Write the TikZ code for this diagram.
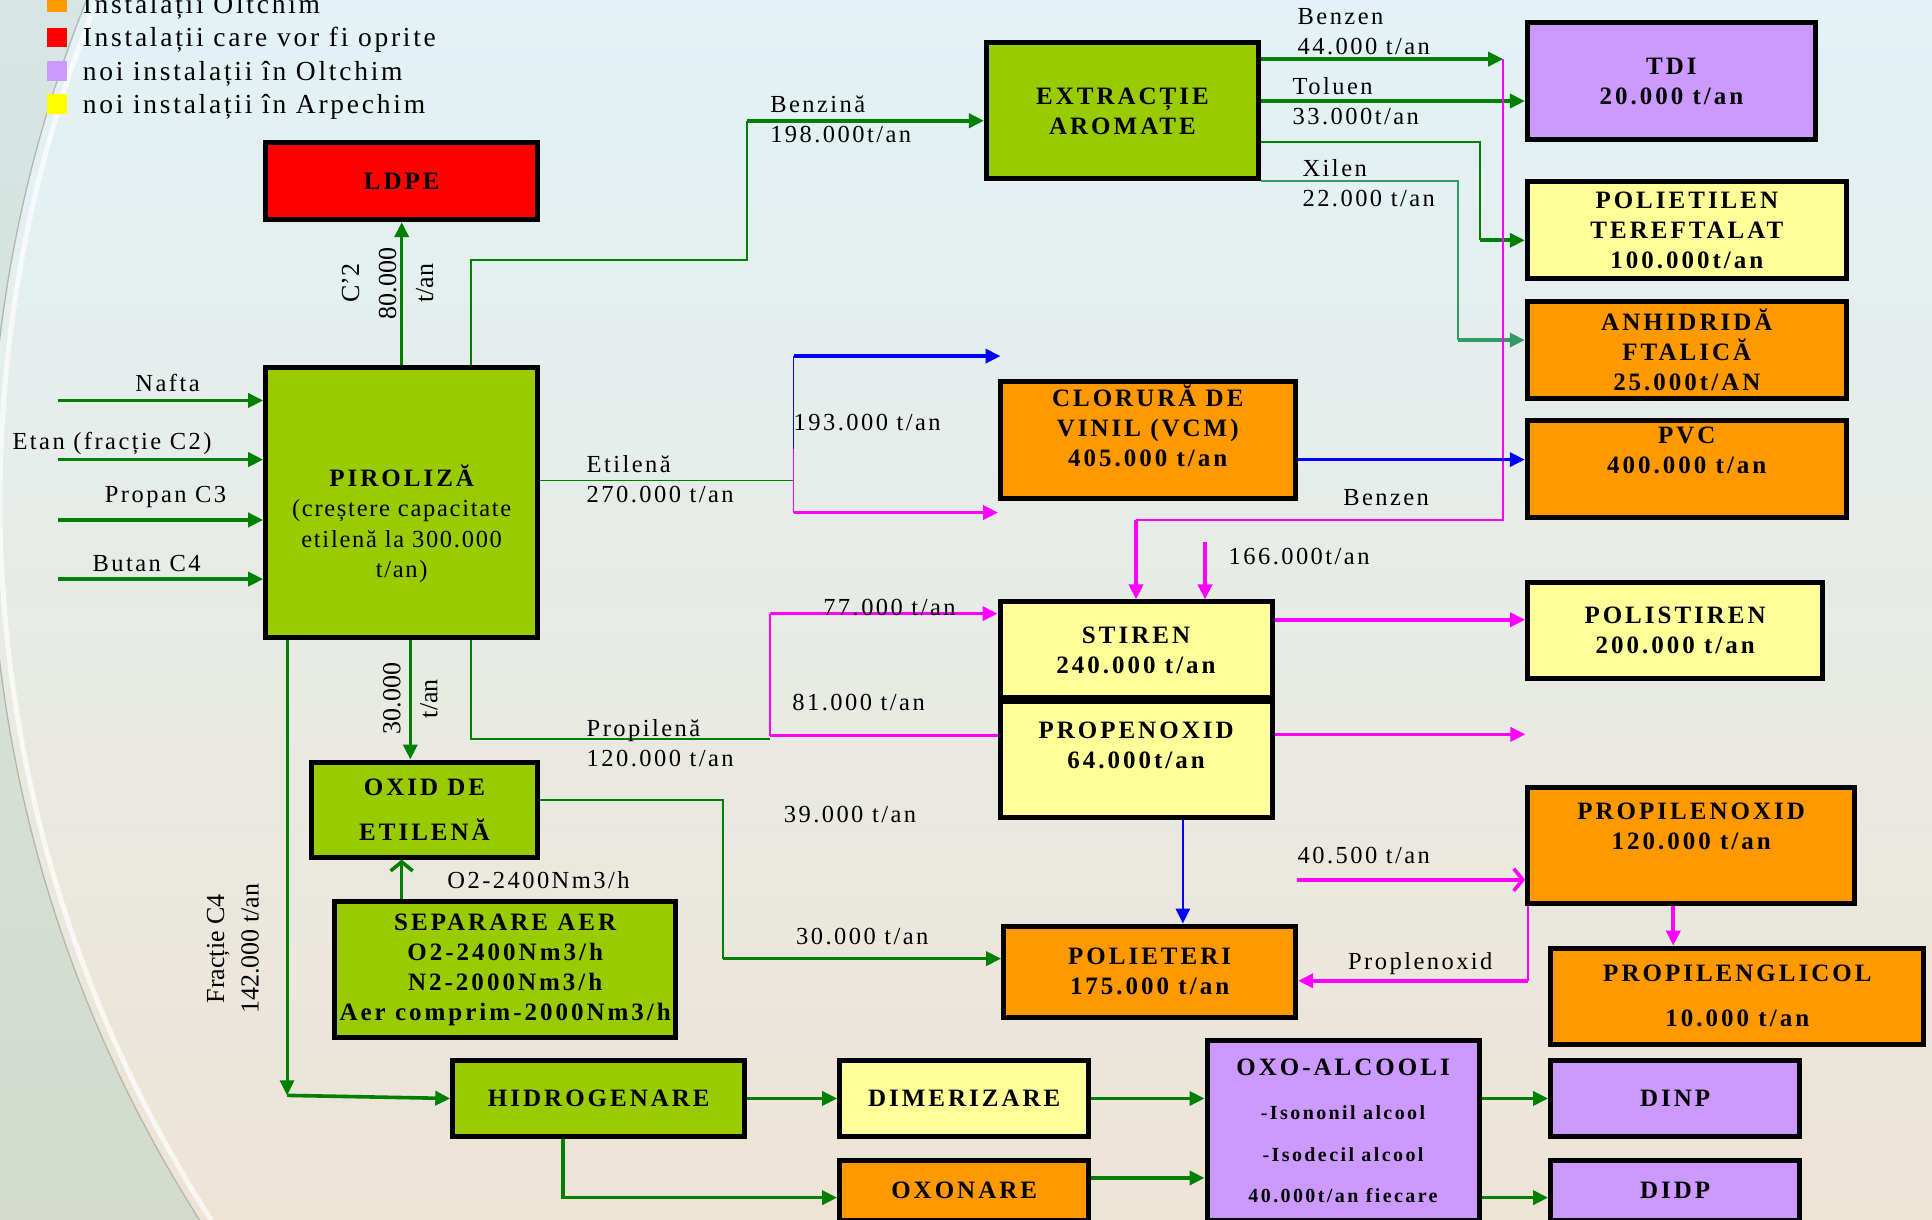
\documentclass[tikz,border=0pt]{standalone}
\usepackage{fontspec}
\setmainfont{Liberation Serif}
\newfontfamily\boxfam[LetterSpace=12]{Liberation Serif}
\newfontfamily\lblfam[LetterSpace=10]{Liberation Serif}
\newfontfamily\legfam[LetterSpace=10]{Liberation Serif}
\newfontfamily\pirfam[LetterSpace=7]{Liberation Serif}
\newfontfamily\rotfam{Liberation Serif}
\usetikzlibrary{arrows.meta}
\definecolor{gfill}{HTML}{99CC00}
\definecolor{ofill}{HTML}{FF9900}
\definecolor{vfill}{HTML}{CC99FF}
\definecolor{yfill}{HTML}{FFFF99}
\definecolor{rfill}{HTML}{FF0000}
\definecolor{ysq}{HTML}{FFFF00}
\definecolor{gline}{HTML}{008000}
\definecolor{tline}{HTML}{339966}
\definecolor{pline}{HTML}{FF00FF}
\definecolor{bline}{HTML}{0000FF}
\definecolor{bgtop}{HTML}{E2F2F6}
\definecolor{bgmid}{HTML}{F6F7F3}
\definecolor{bgbot}{HTML}{EDE4D6}
\definecolor{lefttop}{HTML}{D8EEF3}
\definecolor{leftbot}{HTML}{D3D5C3}
\definecolor{arcline}{HTML}{B5B5AC}
\newcommand\boxtxt{\fontsize{25}{30}\selectfont\boxfam\bfseries}
\newcommand\subtxt{\fontsize{20}{24}\selectfont\boxfam\bfseries}
\newcommand\lbltxt{\fontsize{24.5}{30}\selectfont\lblfam}
\newcommand\legtxt{\fontsize{27.5}{33}\selectfont\legfam}
\newcommand\pirtxt{\fontsize{24.5}{30.5}\selectfont\pirfam}
\newcommand\rottxt{\fontsize{26}{37}\selectfont\rotfam}
\newcommand\rottxtb{\fontsize{26}{34.5}\selectfont\rotfam}
\tikzset{
  box/.style={draw=black, line width=5pt, inner sep=2pt, align=center, font=\boxtxt, text=black},
  bx/.style 2 args={minimum width=#1pt, minimum height=#2pt},
  lbl/.style={font=\lbltxt, inner sep=0pt, align=left, text=black},
  leg/.style={font=\legtxt, inner sep=0pt, anchor=base west, text=black},
  legsq/.style={minimum size=19.7pt, inner sep=0pt, draw=none},
  rot/.style={inner sep=0pt, align=center, rotate=90, text=black},
  arrowtip/.style={-{Triangle[length=15pt,width=14pt]}},
  openbarb/.style={-{Straight Barb[length=9pt,width=22pt]}},
  gA/.style={draw=gline, line width=3.6pt, arrowtip},
  gT/.style={draw=gline, line width=1.8pt},
  tA/.style={draw=tline, line width=3.6pt, arrowtip},
  tT/.style={draw=tline, line width=1.8pt},
  pA/.style={draw=pline, line width=3.6pt, arrowtip},
  pT/.style={draw=pline, line width=1.8pt},
  bA/.style={draw=bline, line width=3.6pt, arrowtip},
  bT/.style={draw=bline, line width=1.8pt},
}
\begin{document}
\begin{tikzpicture}[x=1.232pt,y=-1.232pt]
\path[use as bounding box, clip] (0,0) rectangle (1568,990);
% ---------- background ----------
\shade[top color=bgtop, middle color=bgmid, bottom color=bgbot] (0,0) rectangle (1568,990);
\shade[even odd rule, top color=lefttop, bottom color=leftbot] (-10,-10) rectangle (1568,1000) (1080,406) circle[radius=1088];
\draw[white, line width=5pt, opacity=0.7] (1080,406) circle[radius=1080];
\draw[arcline, line width=1.3pt] (1080,406) circle[radius=1088];

% ---------- legend ----------
\node[legsq, fill=ofill] (lg1) at (46,2) {};
\node[legsq, fill=rfill] (lg2) at (46,30.5) {};
\node[legsq, fill=vfill] (lg3) at (46,57.5) {};
\node[legsq, fill=ysq] (lg4) at (46,84.5) {};
\node[leg] (lt1) at (67,11) {Instalații Oltchim};
\node[leg] (lt2) at (67,38) {Instalații care vor fi oprite};
\node[leg] (lt3) at (67,65) {noi instalații în Oltchim};
\node[leg] (lt4) at (67,92) {noi instalații în Arpechim};

% ---------- boxes ----------
\node[box, bx={272}{77}, fill=rfill] (ldpe) at (326,147) {LDPE};
\node[box, bx={272}{136}, fill=gfill] (extr) at (911,90) {EXTRACȚIE\\AROMATE};
\node[box, bx={288}{117}, fill=vfill] (tdi) at (1356.5,66) {TDI\\20.000 t/an};
\node[box, bx={319}{97}, fill=yfill] (pet) at (1369,187) {POLIETILEN\\TEREFTALAT\\100.000t/an};
\node[box, bx={319}{97}, fill=ofill] (anh) at (1369,284) {ANHIDRIDĂ\\FTALICĂ\\25.000t/AN};
\node[box, bx={319}{97}, fill=ofill] (pvc) at (1369,381) {PVC\\400.000 t/an\\[8pt]\mbox{}};
\node[box, bx={295}{117}, fill=ofill] (vcm) at (931.5,357) {CLORURĂ DE\\VINIL (VCM)\\405.000 t/an\\[-2pt]\mbox{}};
\node[box, bx={272}{270}, fill=gfill, font=\pirtxt] (piro) at (326,408)
  {\mbox{}\\[33pt]{\boxtxt PIROLIZĂ}\\(creștere capacitate\\etilenă la 300.000\\t/an)};
\node[box, bx={272}{96}, fill=yfill] (stir) at (922,527.5) {STIREN\\240.000 t/an};
\node[box, bx={272}{116}, fill=yfill] (prop) at (922,616.5) {PROPENOXID\\64.000t/an\\[-2pt]\mbox{}};
\node[box, bx={295}{96}, fill=yfill] (polist) at (1359.5,511.5) {POLISTIREN\\200.000 t/an};
\node[box, bx={327}{116}, fill=ofill] (pox) at (1372.5,686.5) {PROPILENOXID\\120.000 t/an\\[10pt]\mbox{}};
\node[box, bx={373}{96}, fill=ofill] (pgl) at (1410,808.5) {PROPILENGLICOL\\[15pt]10.000 t/an};
\node[box, bx={226}{95}, fill=gfill] (oxe) at (344.5,657) {OXID DE\\[15pt]ETILENĂ};
\node[box, bx={341}{136}, fill=gfill] (sep) at (410,787) {SEPARARE AER\\O2-2400Nm3/h\\N2-2000Nm3/h\\Aer comprim-2000Nm3/h};
\node[box, bx={292}{91}, fill=ofill] (polie) at (933,788.5) {POLIETERI\\175.000 t/an};
\node[box, bx={292}{76}, fill=gfill] (hidr) at (486,891.5) {HIDROGENARE};
\node[box, bx={249}{76}, fill=yfill] (dim) at (782.5,891.5) {DIMERIZARE};
\node[box, bx={249}{60}, fill=ofill] (oxon) at (782.5,966) {OXONARE};
\node[box, bx={272}{180}, fill=vfill] (oxo) at (1090,917.5)
  {OXO-ALCOOLI\\[14pt]{\subtxt -Isononil alcool}\\[12pt]{\subtxt -Isodecil alcool}\\[11pt]{\subtxt 40.000t/an fiecare}};
\node[box, bx={249}{76}, fill=vfill] (dinp) at (1359.5,891.5) {DINP};
\node[box, bx={249}{60}, fill=vfill] (didp) at (1359.5,966) {DIDP};

% ---------- free coordinates ----------
\coordinate (in1) at (47,325);
\coordinate (in2) at (47,373);
\coordinate (in3) at (47,422);
\coordinate (in4) at (47,470);
\coordinate (bz0) at (606,211);
\coordinate (bzk) at (606,98);
\coordinate (benzend) at (1220,48);
\coordinate (petc) at (1201,115);
\coordinate (petk) at (1201,195);
\coordinate (xic) at (1183,147);
\coordinate (xik) at (1183,276);
\coordinate (pbz) at (1220,422);
\coordinate (pbz2) at (922,422);
\coordinate (s166) at (978,440);
\coordinate (etj) at (644,390);
\coordinate (etsplit) at (644,364);
\coordinate (etb) at (644,289);
\coordinate (etbend) at (812,289);
\coordinate (etp) at (644,416);
\coordinate (etpend) at (810,416);
\coordinate (prj) at (382,600);
\coordinate (prk) at (625,600);
\coordinate (prp) at (625,597);
\coordinate (prt) at (625,498);
\coordinate (poend) at (1238,596);
\coordinate (c4k) at (233,889);
\coordinate (oxc) at (587,649);
\coordinate (oxk) at (587,778);
\coordinate (s405) at (1053,714);
\coordinate (plk) at (1240,796);

% ---------- connectors ----------
\draw[gA] (in1) -- (piro.west |- in1);
\draw[gA] (in2) -- (piro.west |- in2);
\draw[gA] (in3) -- (piro.west |- in3);
\draw[gA] (in4) -- (piro.west |- in4);
\draw[gA] (piro.north) -- (ldpe.south);
\draw[gT] (piro.north -| 382,0) |- (bz0) -- (bzk);
\draw[gA] (bzk) -- (extr.west |- bzk);
\draw[gA] (extr.east |- benzend) -- (benzend);
\draw[gA] (extr.east |- 0,82) -- (tdi.west |- 0,82);
\draw[gT] (extr.east |- petc) -- (petc) -- (petk);
\draw[gA] (petk) -- (pet.west |- petk);
\draw[tT] (extr.east |- xic) -- (xic) -- (xik);
\draw[tA] (xik) -- (anh.west |- xik);
\draw[pT] (benzend) -- (pbz) -- (pbz2);
\draw[pA] (pbz2) -- (stir.north -| pbz2);
\draw[pA] (s166) -- (stir.north -| s166);
\draw[gT] (piro.east |- etj) -- (etj);
\draw[bT] (etsplit) -- (etb);
\draw[bA] (etb) -- (etbend);
\draw[pT] (etsplit) -- (etp);
\draw[pA] (etp) -- (etpend);
\draw[bA] (vcm.east |- 0,373) -- (pvc.west |- 0,373);
\draw[pA] (stir.east |- 0,503) -- (polist.west |- 0,503);
\draw[pA] (prop.east |- poend) -- (poend);
\draw[gT] (piro.south -| prj) -- (prj) -- (prk);
\draw[pT] (prp) -- (prt);
\draw[draw=pline, line width=3.6pt] (prp) -- (prop.west |- prp);
\draw[pA] (prt) -- (stir.west |- prt);
\draw[gA] (piro.south -| 333,0) -- (oxe.north -| 333,0);
\draw[draw=gline, line width=3pt, arrowtip] (piro.south -| c4k) -- (c4k);
\draw[gA] (c4k) -- (hidr.west);
\draw[gT] (oxe.east |- oxc) -- (oxc) -- (oxk);
\draw[gA] (oxk) -- (polie.west |- oxk);
\draw[draw=gline, line width=3.6pt, openbarb] (sep.north -| 326,0) -- (oxe.south -| 326,0);
\draw[draw=bline, line width=2.6pt, arrowtip] (prop.south -| 960,0) -- (polie.north -| 960,0);
\draw[draw=pline, line width=3.6pt, openbarb] (s405) -- (pox.west |- s405);
\draw[draw=pline, line width=2.2pt] (pox.south -| plk) -- (plk);
\draw[pA] (plk) -- (polie.east |- plk);
\draw[pA] (pox.south -| 1358,0) -- (pgl.north -| 1358,0);
\draw[gA] (hidr.east) -- (dim.west);
\draw[gA] (hidr.south -| 457,0) |- (oxon.west |- 0,972);
\draw[gA] (dim.east) -- (oxo.west |- dim.east);
\draw[gA] (oxon.east |- 0,956) -- (oxo.west |- 0,956);
\draw[gA] (oxo.east |- dinp.west) -- (dinp.west);
\draw[gA] (oxo.east |- 0,972) -- (didp.west |- 0,972);

% ---------- labels ----------
\node[lbl] (l-nafta) at (136,311) {Nafta};
\node[lbl, anchor=west] (l-etan) at (10,360) {Etan (fracție C2)};
\node[lbl, anchor=west] (l-propan) at (85,403) {Propan C3};
\node[lbl, anchor=west] (l-butan) at (75,457) {Butan C4};
\node[rot, font=\rottxt] (l-c2) at (314.5,230) {C’2\\80.000\\t/an};
\node[rot, font=\rottxt] (l-30) at (333,567) {30.000\\t/an};
\node[rot, font=\rottxtb] (l-c4) at (189,770) {Fracție C4\\142.000 t/an};
\node[lbl, anchor=west] (l-benzina) at (625,97) {Benzină\\198.000t/an};
\node[lbl, anchor=west] (l-benzen) at (1053,25.5) {Benzen\\44.000 t/an};
\node[lbl, anchor=west] (l-toluen) at (1049,82.5) {Toluen\\33.000t/an};
\node[lbl, anchor=west] (l-xilen) at (1057,148.5) {Xilen\\22.000 t/an};
\node[lbl, anchor=west] (l-etilena) at (476,389) {Etilenă\\270.000 t/an};
\node[lbl, anchor=west] (l-193) at (644,343) {193.000 t/an};
\node[lbl, anchor=west] (l-benzen2) at (1090,404) {Benzen};
\node[lbl, anchor=west] (l-166) at (997,452) {166.000t/an};
\node[lbl, anchor=west] (l-77) at (668,493) {77.000 t/an};
\node[lbl, anchor=west] (l-81) at (643,570) {81.000 t/an};
\node[lbl, anchor=west] (l-propilena) at (476,603.5) {Propilenă\\120.000 t/an};
\node[lbl, anchor=west] (l-39) at (636,661) {39.000 t/an};
\node[lbl, anchor=west] (l-30b) at (646,760) {30.000 t/an};
\node[lbl, anchor=west] (l-405) at (1053,694) {40.500 t/an};
\node[lbl, anchor=west] (l-proplen) at (1094,782) {Proplenoxid};
\node[lbl, anchor=west] (l-o2) at (363,714) {O2-2400Nm3/h};
\end{tikzpicture}
\end{document}
